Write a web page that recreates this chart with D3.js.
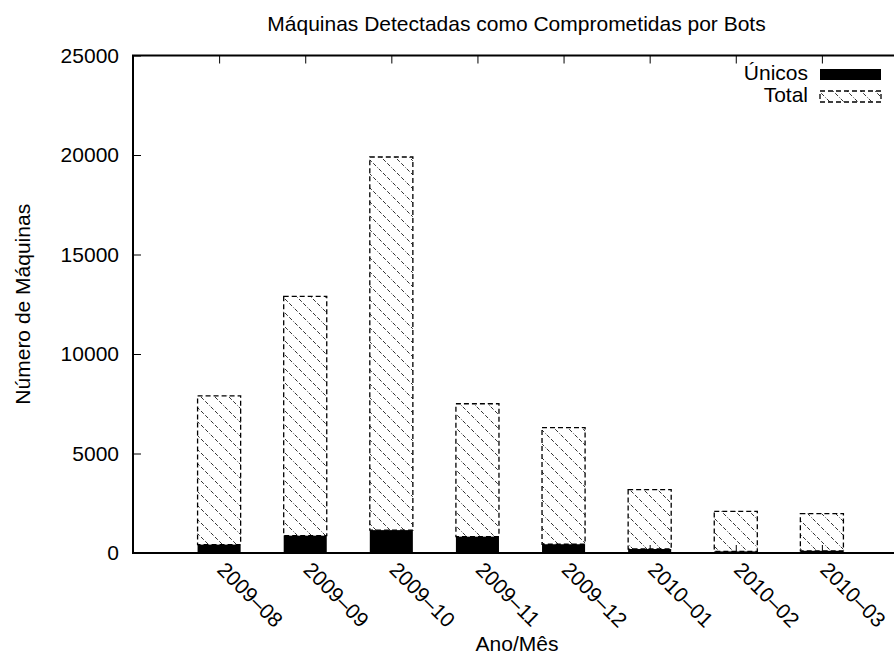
<!DOCTYPE html>
<html>
<head>
    <meta charset="utf-8">
    <title>Máquinas Detectadas como Comprometidas por Bots</title>
    <script src="https://d3js.org/d3.v7.min.js"></script>
    <style>
        body { margin: 0; background: #fff; }
        text { font-family: "Liberation Sans", Arial, sans-serif; fill: #000; }
    </style>
</head>
<body>
<script>
// Data
const months = ["2009–08", "2009–09", "2009–10", "2009–11", "2009–12", "2010–01", "2010–02", "2010–03"];
const unicos = [420, 870, 1150, 820, 440, 200, 80, 110];
const total = [7900, 12900, 19900, 7500, 6300, 3180, 2090, 1980];
const yTicks = [0, 5000, 10000, 15000, 20000, 25000];

const W = 894, H = 657;
const margin = {left: 133, right: 908, top: 55.5, bottom: 553};
const fs = 21;

const svg = d3.select("body").append("svg")
    .attr("width", W)
    .attr("height", H);

// hatch pattern for "Total"
const defs = svg.append("defs");
const pat = defs.append("pattern")
    .attr("id", "hatch")
    .attr("patternUnits", "userSpaceOnUse")
    .attr("width", 14)
    .attr("height", 14);
pat.append("path")
    .attr("d", "M-3.5,-3.5 L17.5,17.5 M-3.5,10.5 L3.5,17.5 M10.5,-3.5 L17.5,3.5")
    .attr("stroke", "#333")
    .attr("stroke-width", 1)
    .attr("stroke-dasharray", "4,2");

const x = d3.scaleLinear().domain([-1, 8]).range([margin.left, margin.right]);
const y = d3.scaleLinear().domain([0, 25000]).range([margin.bottom, margin.top]);
const bw = 0.5;

// bars
const g = svg.append("g");
months.forEach((m, i) => {
    g.append("rect")
        .attr("x", x(i - bw / 2))
        .attr("width", x(bw) - x(0))
        .attr("y", y(unicos[i]))
        .attr("height", y(0) - y(unicos[i]))
        .attr("fill", "#000");
    g.append("rect")
        .attr("x", x(i - bw / 2))
        .attr("width", x(bw) - x(0))
        .attr("y", y(total[i]))
        .attr("height", y(unicos[i]) - y(total[i]))
        .attr("fill", "url(#hatch)")
        .attr("stroke", "#000")
        .attr("stroke-width", 1.3)
        .attr("stroke-dasharray", "5,3");
});

// axes (inward ticks, gnuplot style)
const yAxis = svg.append("g")
    .attr("transform", `translate(${margin.left},0)`)
    .call(d3.axisLeft(y).tickValues(yTicks).tickSize(-8).tickPadding(14).tickFormat(d3.format("d")));
yAxis.select(".domain").remove();
yAxis.selectAll("text").attr("font-size", fs).attr("font-family", "Liberation Sans, Arial, sans-serif");

svg.append("g")
    .attr("transform", `translate(${margin.right},0)`)
    .call(d3.axisRight(y).tickValues(yTicks).tickSize(-8).tickFormat(""))
    .select(".domain").remove();

const xTop = svg.append("g")
    .attr("transform", `translate(0,${margin.top})`)
    .call(d3.axisTop(x).tickValues(d3.range(months.length)).tickSize(-8).tickFormat(""));
xTop.select(".domain").remove();

const xBot = svg.append("g")
    .attr("transform", `translate(0,${margin.bottom})`)
    .call(d3.axisBottom(x).tickValues(d3.range(months.length)).tickSize(-8).tickFormat(""));
xBot.select(".domain").remove();

svg.selectAll(".tick line").attr("stroke", "#000").attr("stroke-width", 1);

// frame
svg.append("rect")
    .attr("x", margin.left)
    .attr("y", margin.top)
    .attr("width", margin.right - margin.left)
    .attr("height", margin.bottom - margin.top)
    .attr("fill", "none")
    .attr("stroke", "#000")
    .attr("stroke-width", 2);

// rotated month labels
svg.append("g").selectAll("text")
    .data(months)
    .join("text")
    .attr("transform", (d, i) => `translate(${x(i) - 3},571) rotate(45)`)
    .attr("font-size", fs)
    .text(d => d);

// titles
svg.append("text")
    .attr("x", (margin.left + margin.right) / 2 - 4)
    .attr("y", 31)
    .attr("text-anchor", "middle")
    .attr("font-size", fs)
    .text("Máquinas Detectadas como Comprometidas por Bots");

svg.append("text")
    .attr("x", 517)
    .attr("y", 651)
    .attr("text-anchor", "middle")
    .attr("font-size", fs)
    .text("Ano/Mês");

svg.append("text")
    .attr("transform", `translate(30,${(margin.top + margin.bottom) / 2}) rotate(-90)`)
    .attr("text-anchor", "middle")
    .attr("font-size", fs)
    .text("Número de Máquinas");

// legend
const legend = [
    {name: "Únicos", fill: "#000", dash: null},
    {name: "Total", fill: "url(#hatch)", dash: "5,3"}
];
legend.forEach((l, i) => {
    const ly = 69 + i * 22;
    svg.append("text")
        .attr("x", 808)
        .attr("y", ly + 11)
        .attr("text-anchor", "end")
        .attr("font-size", fs)
        .text(l.name);
    svg.append("rect")
        .attr("x", 820)
        .attr("y", ly)
        .attr("width", 61)
        .attr("height", 11)
        .attr("fill", l.fill)
        .attr("stroke", l.dash ? "#000" : "none")
        .attr("stroke-width", 1.3)
        .attr("stroke-dasharray", l.dash);
});
</script>
</body>
</html>
